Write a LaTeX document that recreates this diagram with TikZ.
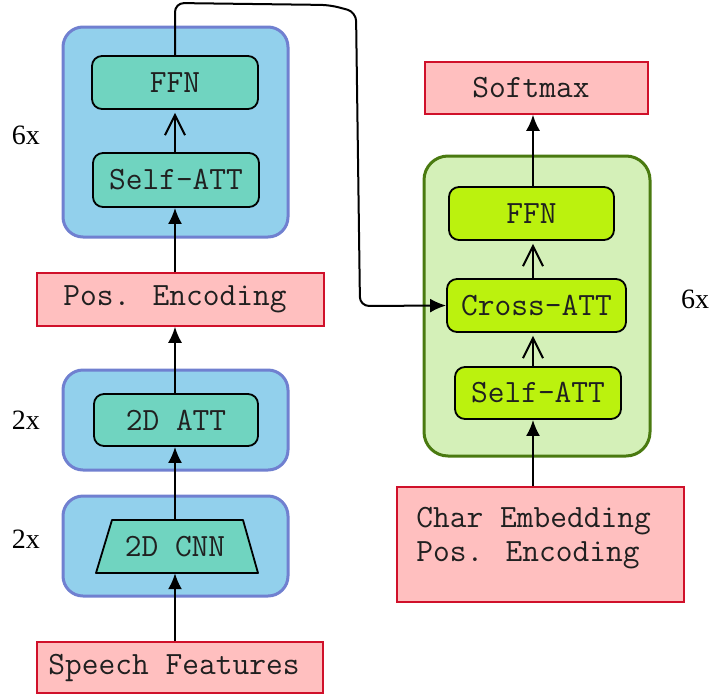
\documentclass[tikz,border=0pt]{standalone}
\usepackage{fontspec}
\newfontfamily\countfont{Liberation Serif}
\usetikzlibrary{arrows.meta,calc}

\definecolor{grpfill}{RGB}{146,208,236}
\definecolor{grpline}{RGB}{112,128,208}
\definecolor{encfill}{RGB}{112,212,192}
\definecolor{decgrp}{RGB}{212,240,184}
\definecolor{decline}{RGB}{74,122,16}
\definecolor{decfill}{RGB}{187,242,14}
\definecolor{iofill}{RGB}{255,191,191}
\definecolor{ioline}{RGB}{208,16,42}
\definecolor{boxtext}{RGB}{32,32,32}

\tikzset{
  monotext/.style={font=\ttfamily\fontsize{32.5pt}{34pt}\selectfont, text=boxtext},
  group/.style={draw=grpline, fill=grpfill, line width=3pt, rounded corners=20pt, inner sep=0pt},
  decgroup/.style={draw=decline, fill=decgrp, line width=3pt, rounded corners=24pt, inner sep=0pt},
  enclayer/.style={monotext, draw=black, fill=encfill, line width=1.8pt, rounded corners=10pt, inner sep=0pt},
  declayer/.style={monotext, draw=black, fill=decfill, line width=1.8pt, rounded corners=10pt, inner sep=0pt},
  iobox/.style={monotext, draw=ioline, fill=iofill, line width=1.5pt, inner sep=0pt},
  count/.style={font=\countfont\fontsize{28pt}{32pt}\selectfont, text=black},
  arr/.style={line width=2pt, -{Latex[length=16pt,width=14pt]}},
  barb/.style={line width=2pt, shorten >=3pt, -{Straight Barb[length=20pt,width=20pt,line width=2pt]}},
}

\begin{document}
\begin{tikzpicture}[x=1pt,y=-1pt]
\useasboundingbox (0,0) rectangle (711,696);

% ---------------- encoder (left column) ----------------
\node[group, minimum width=225pt, minimum height=210pt] (encgrp) at (175.5,132) {};
\node[enclayer, minimum width=166pt, minimum height=53pt] (ffnL) at (175,82.5) {FFN};
\node[enclayer, minimum width=166pt, minimum height=54pt] (saL) at (176,180) {Self-ATT};

\node[iobox, minimum width=287pt, minimum height=53pt] (pos) at (180.5,299.5) {Pos. Encoding\kern11pt};

\node[group, minimum width=225pt, minimum height=100pt] (attgrp) at (175.5,420) {};
\node[enclayer, minimum width=164pt, minimum height=52pt] (att2d) at (176,420) {2D ATT};

\node[group, minimum width=225pt, minimum height=100pt] (cnngrp) at (175.5,546) {};
\filldraw[fill=encfill, draw=black, line width=1.8pt, line join=round]
  (112,520) -- (243,520) -- (258,573) -- (96,573) -- cycle;
\node[monotext, minimum height=53pt, inner sep=0pt] (cnn) at (175,546.5) {2D CNN};

\node[iobox, minimum width=286pt, minimum height=51pt] (speech) at (180,667.5) {Speech Features\kern12pt};

% repeat counts
\node[count] (nEnc) at (26,135) {6x};
\node[count] (nAtt) at (26,420) {2x};
\node[count] (nCnn) at (26,539) {2x};

% ---------------- decoder (right column) ----------------
\node[iobox, minimum width=223pt, minimum height=52pt] (softmax) at (536.5,88) {Softmax\kern11pt};

\node[decgroup, minimum width=226pt, minimum height=300pt] (decgrp) at (537,306) {};
\node[declayer, minimum width=165pt, minimum height=53pt] (ffnR) at (531.5,213.5) {FFN};
\node[declayer, minimum width=179pt, minimum height=53pt] (cross) at (536.5,305.5) {Cross-ATT};
\node[declayer, minimum width=166pt, minimum height=52pt] (saR) at (538,393) {Self-ATT};

\node[iobox, minimum width=287pt, minimum height=115pt] (char) at (540.5,544.5) {};
\node[monotext, align=left, anchor=north west, inner sep=0pt] (chartxt)
  at ($(char.north west)+(20,21)$) {Char Embedding\\Pos. Encoding};

\node[count] (nDec) at (695,299) {6x};

\coordinate (axL) at (175,0);
\coordinate (axR) at (533,0);

% ---------------- connectors ----------------
\draw[arr] (speech.north -| axL) -- (cnn.south -| axL);
\draw[arr] (cnn.north -| axL) -- (att2d.south -| axL);
\draw[arr] (att2d.north -| axL) -- (pos.south -| axL);
\draw[arr] (pos.north -| axL) -- (saL.south -| axL);
\draw[barb] (saL.north -| axL) -- (ffnL.south -| axL);

% encoder output fed into the decoder's cross attention
\draw[line width=2pt, rounded corners=9pt, -{Latex[length=16pt,width=14pt]}]
  (ffnL.north -| axL) -- (175,3) -- (330,5) -- (356,12) -- (360,306) -- (cross.west);

\draw[arr] (char.north -| axR) -- (saR.south -| axR);
\draw[barb] (saR.north -| axR) -- (cross.south -| axR);
\draw[barb] (cross.north -| axR) -- (ffnR.south -| axR);
\draw[arr] (ffnR.north -| axR) -- (softmax.south -| axR);
\end{tikzpicture}
\end{document}
